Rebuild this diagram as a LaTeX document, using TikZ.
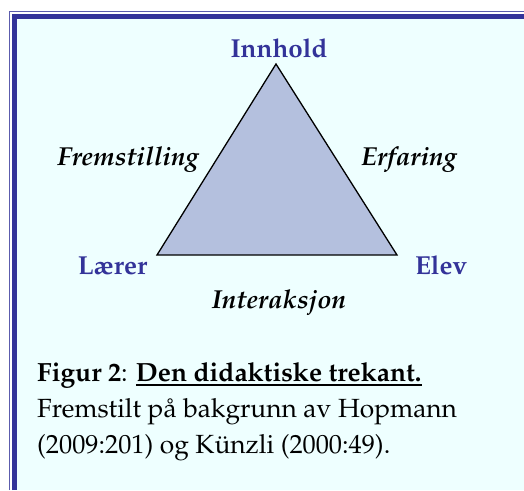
\documentclass[tikz,border=0pt]{standalone}
\usepackage[T1]{fontenc}
\usepackage{mathpazo}

\definecolor{rammeblaa}{RGB}{51,51,153}
\definecolor{bakgrunn}{RGB}{238,255,255}
\definecolor{trekantfyll}{RGB}{180,192,222}

\begin{document}
\begin{tikzpicture}[
    x=1pt, y=-1pt,
    hjorne/.style={
      text=rammeblaa,
      font=\fontsize{26}{30}\selectfont\bfseries,
      inner sep=0pt,
      anchor=base
    },
    side/.style={
      font=\fontsize{26}{30}\selectfont\bfseries\itshape,
      inner sep=0pt,
      anchor=base
    },
    trekant/.style={
      draw=black,
      fill=trekantfyll,
      line width=1.3pt,
      line join=miter
    }
  ]
    \useasboundingbox (0,0) rectangle (524,490);

    % ramme
    \fill[bakgrunn] (17,19) rectangle (524,490);
    \draw[rammeblaa, line width=5pt] (14.5,490) -- (14.5,16.5) -- (524,16.5);
    \draw[rammeblaa!80, line width=1.2pt] (9.5,490) -- (9.5,11.5) -- (524,11.5);

    % trekanten
    \coordinate (topp) at (276,64);
    \coordinate (venstre) at (157,255);
    \coordinate (hoyre) at (397,255);
    \draw[trekant] (topp) -- (venstre) -- (hoyre) -- cycle;

    \node[hjorne] (innhold) at (279,57) {Innhold};
    \node[hjorne] (laerer) at (112.5,274) {L\ae rer};
    \node[hjorne] (elev) at (441,274) {Elev};

    \node[side] (fremstilling) at (128,165) {Fremstilling};
    \node[side] (erfaring) at (409,165) {Erfaring};
    \node[side] (interaksjon) at (279,308) {Interaksjon};

    % figurtekst
    \node[anchor=base west, inner sep=0pt, align=left,
          font=\fontsize{26.3}{36}\selectfont] (figurtekst) at (37,453)
      {\textbf{Figur 2}: \underline{\textbf{Den didaktiske trekant.}}\\
       Fremstilt p\aa{} bakgrunn av Hopmann\\
       (2009:201) og K\"unzli (2000:49).};
  \end{tikzpicture}
\end{document}
